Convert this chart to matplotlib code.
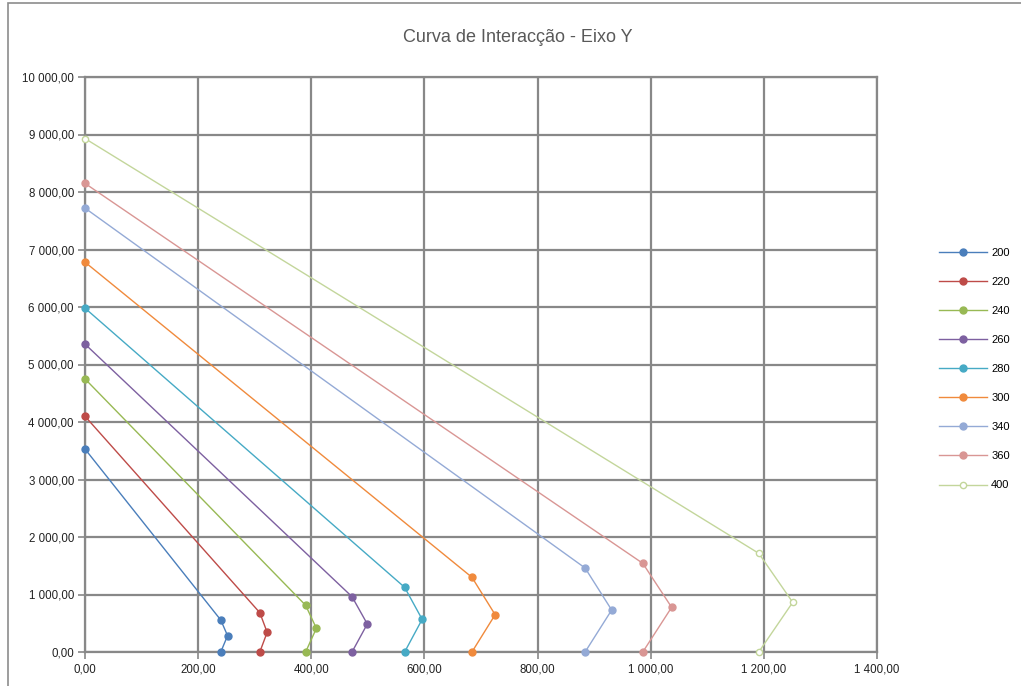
import matplotlib
matplotlib.use("Agg")
import matplotlib.pyplot as plt
from matplotlib.ticker import FuncFormatter, MultipleLocator
from matplotlib.patches import Rectangle

plt.rcParams['font.family'] = ['Liberation Sans', 'DejaVu Sans']

# Séries (momento, esforço axial) por secção
labels = ['200', '220', '240', '260', '280', '300', '340', '360', '400']
x_200 = [0, 240, 252, 240]
y_200 = [3530, 556, 284, 0]
x_220 = [0, 309, 322, 309]
y_220 = [4100, 684, 342, 0]
x_240 = [0, 390, 409, 390]
y_240 = [4750, 812, 412, 0]
x_260 = [0, 472, 499, 472]
y_260 = [5355, 962, 487, 0]
x_280 = [0, 565, 596, 565]
y_280 = [5980, 1125, 568, 0]
x_300 = [0, 684, 725, 684]
y_300 = [6780, 1299, 649, 0]
x_340 = [0, 884, 931, 884]
y_340 = [7720, 1461, 730, 0]
x_360 = [0, 986, 1037, 986]
y_360 = [8150, 1542, 777, 0]
x_400 = [0, 1191, 1251, 1191]
y_400 = [8930, 1716, 864, 0]

xs = [x_200, x_220, x_240, x_260, x_280, x_300, x_340, x_360, x_400]
ys = [y_200, y_220, y_240, y_260, y_280, y_300, y_340, y_360, y_400]
colors = ['#4A7EBB', '#BE4B48', '#98B954', '#7D60A0', '#46AAC5',
          '#F08A3C', '#94AAD6', '#D99694', '#C3D69B']

fig = plt.figure(figsize=(10.21, 6.86), dpi=100)
ax = fig.add_axes([85 / 1021, 1 - 652 / 686, 792 / 1021, 575 / 686])

for xv, yv, lab, c in zip(xs, ys, labels, colors):
    if lab == '400':
        ax.plot(xv, yv, '-o', color=c, lw=1, ms=4.5, mfc='white', mec=c, mew=1,
                label=lab, clip_on=False, zorder=3)
    else:
        ax.plot(xv, yv, '-o', color=c, lw=1, ms=5, label=lab, clip_on=False, zorder=3)

ax.set_xlim(0, 1400)
ax.set_ylim(0, 10000)
ax.xaxis.set_major_locator(MultipleLocator(200))
ax.yaxis.set_major_locator(MultipleLocator(1000))


def fmt(v, pos):
    s = f"{v:,.2f}"
    return s.replace(',', ' ').replace('.', ',')


ax.xaxis.set_major_formatter(FuncFormatter(fmt))
ax.yaxis.set_major_formatter(FuncFormatter(fmt))
ax.grid(True, color='#888888', lw=1.6)
ax.set_axisbelow(True)
for s in ax.spines.values():
    s.set_color('#888888')
    s.set_linewidth(1.6)
ax.tick_params(length=5, width=1.2, color='#888888', labelsize=8.3, colors='#888888',
               labelcolor='#222222', pad=3)

fig.text(0.507, 1 - 37 / 686, 'Curva de Interacção - Eixo Y', ha='center', va='center',
         fontsize=13, color='#595959')

fig.legend(loc='center left', bbox_to_anchor=(929 / 1021, 1 - 369 / 686), frameon=False,
           fontsize=8, handlelength=4.3, labelspacing=1.72, handletextpad=0.4)

fig.patches.append(Rectangle((8 / 1021, -0.01), 1.0, 1 - 3 / 686 + 0.01, transform=fig.transFigure,
                             fill=False, edgecolor='#8c8c8c', lw=1.2))

fig.savefig('out.png', dpi=100)
